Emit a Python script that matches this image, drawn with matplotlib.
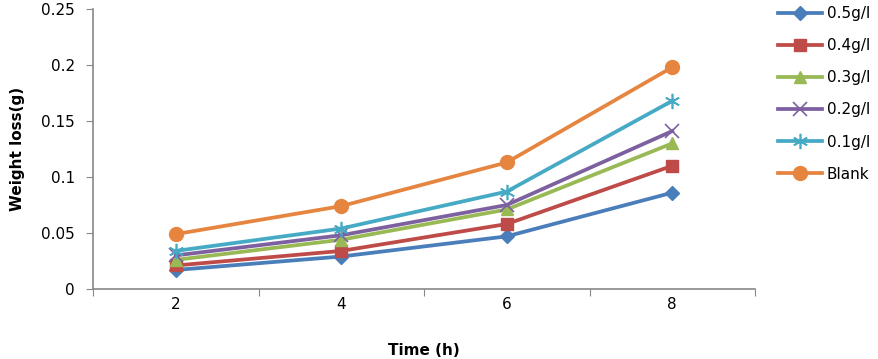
import matplotlib
matplotlib.use("Agg")
import matplotlib.pyplot as plt
import numpy as np

times = ["2", "4", "6", "8"]
series_names = ["0.5g/l", "0.4g/l", "0.3g/l", "0.2g/l", "0.1g/l", "Blank"]
s05 = [0.017, 0.029, 0.047, 0.086]
s04 = [0.021, 0.034, 0.058, 0.110]
s03 = [0.026, 0.044, 0.071, 0.130]
s02 = [0.030, 0.048, 0.075, 0.141]
s01 = [0.034, 0.054, 0.087, 0.168]
blank = [0.049, 0.074, 0.113, 0.198]
yticks = [0, 0.05, 0.1, 0.15, 0.2, 0.25]
ytick_labels = ["0", "0.05", "0.1", "0.15", "0.2", "0.25"]

values = [s05, s04, s03, s02, s01, blank]
colors = ["#4A7EBB", "#BE4B48", "#98B954", "#7D60A0", "#46AAC5", "#E6853F"]
markers = ["D", "s", "^", "x", (6, 2, 0), "o"]
msizes = [7.5, 8.5, 8.5, 10, 11, 10]

plt.rcParams['font.family'] = ['DejaVu Sans']
fig = plt.figure(figsize=(8.79, 3.59), dpi=100)
ax = fig.add_axes([93/879, 70/359, (755-93)/879, (289-9)/359])

x = np.arange(len(times))
for vals, name, c, m, ms in zip(values, series_names, colors, markers, msizes):
    mew = 1.2 if (m == "x" or isinstance(m, tuple)) else 1
    ax.plot(x, vals, color=c, lw=2.7, marker=m, markersize=ms,
            markerfacecolor=c, markeredgecolor=c, markeredgewidth=mew, label=name)

ax.set_xlim(-0.5, 3.5)
ax.set_ylim(0, 0.25)
ax.set_yticks(yticks)
ax.set_yticklabels(ytick_labels, fontsize=11)
ax.set_xticks(np.arange(-0.5, 3.6, 1.0))
ax.set_xticklabels([])
ax.set_xticks(x, minor=True)
ax.set_xticklabels(times, minor=True, fontsize=11)
ax.tick_params(axis='x', which='minor', length=0, pad=6)
ax.tick_params(axis='x', which='major', length=5, direction='out', color='#888888')
ax.tick_params(axis='y', length=5, direction='out', color='#888888', pad=8)
for s in ['top', 'right']:
    ax.spines[s].set_visible(False)
for s in ['left', 'bottom']:
    ax.spines[s].set_color('#888888')
    ax.spines[s].set_linewidth(1.2)

ax.set_xlabel("Time (h)", fontsize=11, fontweight='bold', labelpad=22)
ax.set_ylabel("Weight loss(g)", fontsize=11, fontweight='bold', labelpad=12)

leg = fig.legend(loc='upper left', bbox_to_anchor=(772/879, 1 - 0/359), frameon=False,
                 fontsize=11, labelspacing=1.12, handlelength=2.9, handletextpad=0.3,
                 borderaxespad=0)

fig.savefig("out.png", dpi=100)
